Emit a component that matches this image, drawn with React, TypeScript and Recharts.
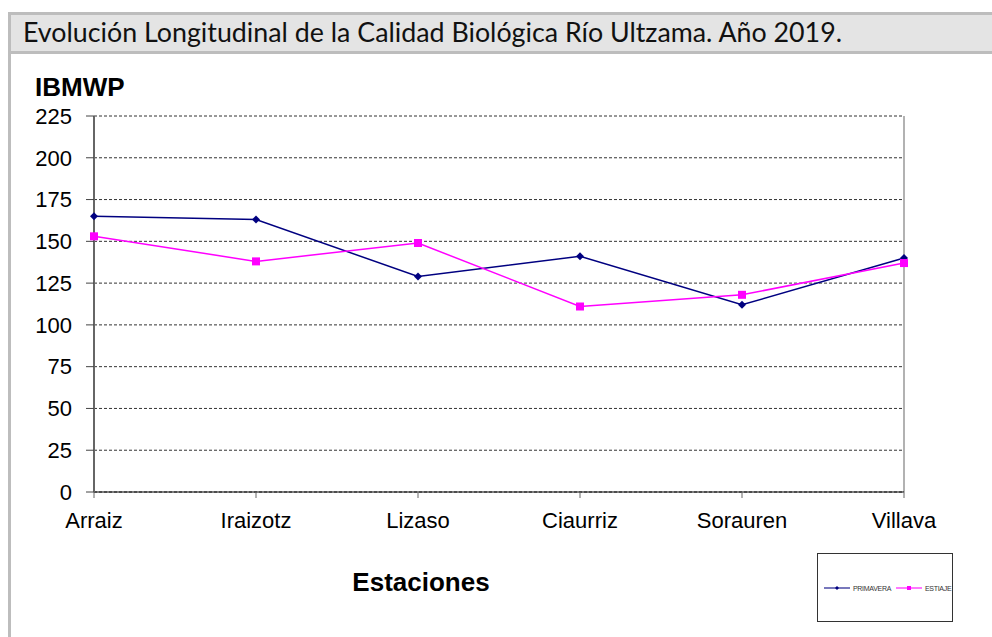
import React from "react";
import { LineChart, Line, XAxis, YAxis, CartesianGrid, ReferenceLine } from "recharts";

const TITLE = "Evolución Longitudinal de la Calidad Biológica Río Ultzama. Año 2019.";
const Y_LABEL = "IBMWP";
const X_LABEL = "Estaciones";

const stations = ["Arraiz", "Iraizotz", "Lizaso", "Ciaurriz", "Sorauren", "Villava"];
const primavera = [165, 163, 129, 141, 112, 140];
const estiaje = [153, 138, 149, 111, 118, 137];
const yTicks = [0, 25, 50, 75, 100, 125, 150, 175, 200, 225];

const seriesDefs = [
  { key: "primavera", name: "PRIMAVERA", color: "#000080", shape: "diamond" },
  { key: "estiaje", name: "ESTIAJE", color: "#FF00FF", shape: "square" },
];

const data = stations.map((s, i) => ({ station: s, primavera: primavera[i], estiaje: estiaje[i] }));

const Diamond = (props: any) => {
  const { cx, cy, fill } = props;
  if (cx == null || cy == null) return null;
  return <polygon points={`${cx},${cy - 4} ${cx + 4},${cy} ${cx},${cy + 4} ${cx - 4},${cy}`} fill={fill} />;
};
const Square = (props: any) => {
  const { cx, cy, fill } = props;
  if (cx == null || cy == null) return null;
  return <rect x={cx - 4} y={cy - 4} width={8} height={8} fill={fill} />;
};

const font = "'Liberation Sans', Arial, sans-serif";

export default function App() {
  return (
    <div style={{ position: "absolute", left: 0, top: 0, width: 992, height: 637, background: "#fff", overflow: "hidden" }}>
      {/* outer frame */}
      <div style={{ position: "absolute", left: 8, top: 12, width: 1100, height: 700, borderLeft: "3px solid #bdbdbd", borderTop: "3px solid #bdbdbd" }} />
      <div style={{ position: "absolute", left: 11, top: 15, width: 1100, height: 36, background: "#e4e4e4", borderBottom: "3px solid #bdbdbd" }} />
      <svg style={{ position: "absolute", left: 0, top: 0 }} width={992} height={60}>
        <text x={23} y={42} fontFamily="Lato, 'Open Sans', sans-serif" fontSize={26} fill="#111" textLength={819} lengthAdjust="spacingAndGlyphs">
          {TITLE}
        </text>
      </svg>
      <div style={{ position: "absolute", left: 35, top: 72, fontFamily: font, fontWeight: "bold", fontSize: 26, color: "#000", lineHeight: "30px" }}>
        {Y_LABEL}
      </div>
      <div style={{ position: "absolute", left: 321, width: 200, textAlign: "center", top: 567, fontFamily: font, fontWeight: "bold", fontSize: 26, color: "#000", lineHeight: "30px" }}>
        {X_LABEL}
      </div>
      <div style={{ position: "absolute", left: 0, top: 0 }}>
        <LineChart width={992} height={637} data={data} margin={{ top: 116, right: 88, bottom: 115, left: 0 }}>
          <CartesianGrid horizontal vertical={false} stroke="#333" strokeDasharray="3 2" />
          <XAxis
            dataKey="station"
            stroke="#000"
            tickSize={6}
            tickMargin={14}
            height={30}
            tick={{ fill: "#000", fontSize: 22, fontFamily: font }}
            axisLine={{ stroke: "#000", strokeWidth: 1 }}
            tickLine={{ stroke: "#666" }}
            interval={0}
          />
          <YAxis
            width={94}
            domain={[0, 225]}
            ticks={yTicks}
            interval={0}
            tickSize={8}
            tickMargin={14}
            tick={{ fill: "#000", fontSize: 22, fontFamily: font }}
            axisLine={{ stroke: "#666", strokeWidth: 2 }}
            tickLine={{ stroke: "#444" }}
          />
          <ReferenceLine x="Villava" stroke="#999" strokeWidth={1.5} />
          <Line dataKey="primavera" name="PRIMAVERA" stroke="#000080" strokeWidth={1.5} dot={<Diamond fill="#000080" />} activeDot={false} isAnimationActive={false} />
          <Line dataKey="estiaje" name="ESTIAJE" stroke="#FF00FF" strokeWidth={1.5} dot={<Square fill="#FF00FF" />} activeDot={false} isAnimationActive={false} />
        </LineChart>
      </div>
      {/* legend */}
      <div style={{ position: "absolute", left: 817, top: 553, width: 134, height: 67, border: "1px solid #333", background: "#fff" }}>
        <svg width={134} height={67} style={{ position: "absolute", left: 0, top: 0 }}>
          {seriesDefs.map((s, i) => {
            const x0 = i === 0 ? 6 : 78;
            const y = 34;
            return (
              <g key={s.key}>
                <line x1={x0} x2={x0 + 26} y1={y} y2={y} stroke={s.color} strokeWidth={1.5} opacity={0.7} />
                {s.shape === "diamond" ? (
                  <polygon points={`${x0 + 13},${y - 2} ${x0 + 15},${y} ${x0 + 13},${y + 2} ${x0 + 11},${y}`} fill={s.color} />
                ) : (
                  <rect x={x0 + 11} y={y - 2} width={4} height={4} fill={s.color} />
                )}
                <text x={x0 + 29} y={y + 2.5} fontFamily={font} fontSize={7} fill="#333" letterSpacing={-0.3}>
                  {s.name}
                </text>
              </g>
            );
          })}
        </svg>
      </div>
    </div>
  );
}
